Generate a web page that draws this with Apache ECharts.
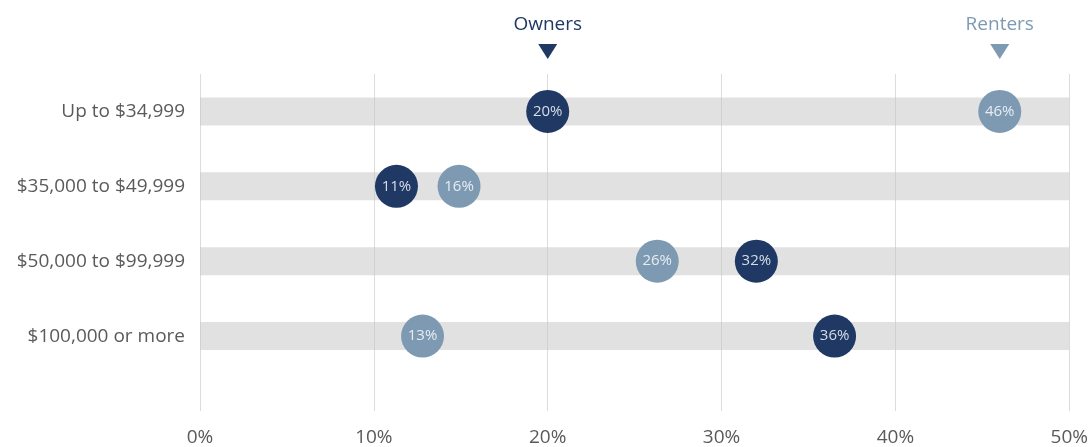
<!DOCTYPE html>
<html lang="en" style="height: 100%">
<head>
  <meta charset="utf-8">
</head>
<body style="height: 100%; margin: 0; background: #fff">
  <div id="container" style="height: 100%"></div>

  <script type="text/javascript" src="https://cdn.jsdelivr.net/npm/echarts@6/dist/echarts.min.js"></script>
  <script type="text/javascript">
    var dom = document.getElementById('container');
    var myChart = echarts.init(dom, null, { renderer: 'canvas' });

    // income brackets, top to bottom
    var categories = ['Up to $34,999', '$35,000 to $49,999', '$50,000 to $99,999', '$100,000 or more'];
    // dot positions (% of households)
    var ownerPos = [20.0, 11.3, 32.0, 36.5];
    var renterPos = [46.0, 14.9, 26.3, 12.8];
    // printed labels inside the dots
    var ownerPct = [20, 11, 32, 36];
    var renterPct = [46, 16, 26, 13];
    var xTicks = [0, 10, 20, 30, 40, 50];

    var ownerColor = '#1f3864';
    var renterColor = '#7e9ab3';
    var textColor = '#5a5a5a';
    var fontFamily = '"Open Sans", "Noto Sans", sans-serif';

    function dots(pos, pct) {
      return pos.map(function (v, i) {
        return { value: [v, i], label: { formatter: pct[i] + '%' } };
      });
    }

    function headerMark(name, x, color) {
      return {
        silent: true,
        symbol: 'path://M0,0 L20,0 L10,15 Z',
        symbolSize: [19, 15],
        symbolOffset: [0, -60],
        itemStyle: { color: color },
        label: {
          show: true,
          position: 'top',
          distance: 10,
          formatter: name,
          color: color,
          fontSize: 19,
          fontFamily: fontFamily
        },
        data: [{ coord: [x, 0] }]
      };
    }

    var option = {
      animation: false,
      grid: { left: 200, right: 19, top: 74, bottom: 36 },
      xAxis: {
        type: 'value',
        min: xTicks[0],
        max: xTicks[xTicks.length - 1],
        interval: 10,
        axisLine: { show: false },
        axisTick: { show: false },
        splitLine: { show: true, lineStyle: { color: '#dcdcdc', width: 1 } },
        axisLabel: {
          formatter: '{value}%',
          color: textColor,
          fontSize: 19,
          fontFamily: fontFamily,
          margin: 17
        }
      },
      yAxis: {
        type: 'value',
        inverse: true,
        min: -0.5,
        max: 4,
        interval: 0.5,
        axisLine: { show: false },
        axisTick: { show: false },
        splitLine: { show: false },
        axisLabel: {
          color: textColor,
          fontSize: 19,
          fontFamily: fontFamily,
          margin: 15,
          formatter: function (v) {
            var i = Math.round(v * 2) / 2;
            return (i % 1 === 0 && categories[i] !== undefined) ? categories[i] : '';
          }
        }
      },
      series: [
        {
          type: 'custom',
          silent: true,
          z: 1,
          renderItem: function (params, api) {
            var row = api.value(0);
            var start = api.coord([xTicks[0], row]);
            var end = api.coord([xTicks[xTicks.length - 1], row]);
            var h = 28;
            return {
              type: 'rect',
              shape: { x: start[0], y: start[1] - h / 2, width: end[0] - start[0], height: h },
              style: { fill: 'rgba(200,200,200,0.55)' }
            };
          },
          data: categories.map(function (c, i) { return [i]; })
        },
        {
          name: 'Owners',
          type: 'scatter',
          z: 3,
          symbolSize: 43,
          itemStyle: { color: ownerColor, opacity: 1 },
          label: {
            show: true,
            position: 'inside',
            color: '#d6dde8',
            fontSize: 15,
            fontFamily: fontFamily
          },
          data: dots(ownerPos, ownerPct),
          markPoint: headerMark('Owners', ownerPos[0], ownerColor)
        },
        {
          name: 'Renters',
          type: 'scatter',
          z: 3,
          symbolSize: 43,
          itemStyle: { color: renterColor, opacity: 1 },
          label: {
            show: true,
            position: 'inside',
            color: '#e6ecf2',
            fontSize: 15,
            fontFamily: fontFamily
          },
          data: dots(renterPos, renterPct),
          markPoint: headerMark('Renters', renterPos[0], renterColor)
        }
      ]
    };

    myChart.setOption(option);
    window.addEventListener('resize', myChart.resize);
  </script>
</body>
</html>
